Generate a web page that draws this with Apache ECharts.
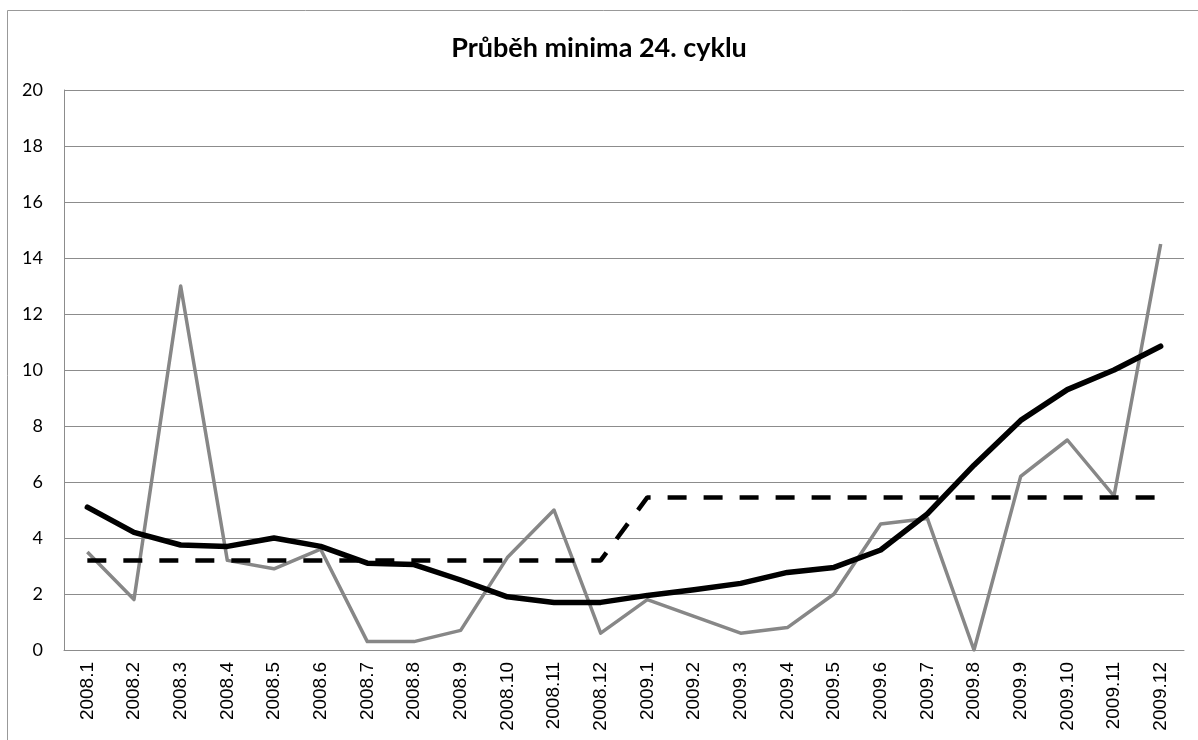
<!DOCTYPE html>
<html>
<head>
<meta charset="utf-8">
<script src="https://cdn.jsdelivr.net/npm/echarts@6/dist/echarts.min.js"></script>
<style>
  html, body { margin: 0; padding: 0; background: #fff; }
  #chart { width: 1198px; height: 740px; }
</style>
</head>
<body>
<div id="chart"></div>
<script>
const months = ['2008.1', '2008.2', '2008.3', '2008.4', '2008.5', '2008.6', '2008.7', '2008.8',
  '2008.9', '2008.10', '2008.11', '2008.12', '2009.1', '2009.2', '2009.3', '2009.4', '2009.5',
  '2009.6', '2009.7', '2009.8', '2009.9', '2009.10', '2009.11', '2009.12'];
// monthly values (gray)
const monthly = [3.5, 1.8, 13.0, 3.2, 2.9, 3.6, 0.3, 0.3, 0.7, 3.3, 5.0, 0.6,
  1.8, 1.2, 0.6, 0.8, 2.0, 4.5, 4.7, 0.0, 6.2, 7.5, 5.5, 14.5];
// smoothed (black)
const smoothed = [5.1, 4.2, 3.75, 3.7, 4.0, 3.7, 3.1, 3.05, 2.5, 1.9, 1.7, 1.7,
  1.95, 2.15, 2.38, 2.77, 2.95, 3.57, 4.86, 6.6, 8.2, 9.3, 10.0, 10.85];
// yearly average (dashed)
const yearly = [3.2, 3.2, 3.2, 3.2, 3.2, 3.2, 3.2, 3.2, 3.2, 3.2, 3.2, 3.2,
  5.45, 5.45, 5.45, 5.45, 5.45, 5.45, 5.45, 5.45, 5.45, 5.45, 5.45, 5.45];

const chart = echarts.init(document.getElementById('chart'));
chart.setOption({
  animation: false,
  backgroundColor: '#fff',
  title: {
    text: 'Průběh minima 24. cyklu',
    left: 'center',
    top: 30,
    textStyle: { fontFamily: 'Lato', fontWeight: 'bold', fontSize: 27, color: '#000' }
  },
  graphic: [{
    type: 'rect',
    shape: { x: 7.5, y: 10.5, width: 1300, height: 900 },
    style: { fill: 'none', stroke: '#999', lineWidth: 1 },
    silent: true
  }],
  grid: { left: 64, right: 14, top: 90, bottom: 90 },
  xAxis: {
    type: 'category',
    data: months,
    boundaryGap: true,
    axisLine: { lineStyle: { color: '#8c8c8c', width: 1 } },
    axisTick: { show: false },
    axisLabel: {
      rotate: 90,
      margin: 12,
      interval: 0,
      fontFamily: 'Liberation Sans',
      fontSize: 19,
      color: '#000'
    }
  },
  yAxis: {
    type: 'value',
    min: 0,
    max: 20,
    interval: 2,
    axisLine: { show: true, lineStyle: { color: '#8c8c8c', width: 1 } },
    axisTick: { show: false },
    splitLine: { lineStyle: { color: '#8c8c8c', width: 1 } },
    axisLabel: {
      margin: 21,
      fontFamily: 'Lato',
      fontSize: 18,
      color: '#000'
    }
  },
  series: [
    {
      name: 'monthly',
      type: 'line',
      data: monthly,
      showSymbol: false,
      lineStyle: { color: '#878787', width: 3.5, join: 'round' },
      z: 2
    },
    {
      name: 'yearly',
      type: 'line',
      data: yearly,
      showSymbol: false,
      lineStyle: { color: '#000', width: 4.5, type: [19, 17], cap: 'butt' },
      z: 3
    },
    {
      name: 'smoothed',
      type: 'line',
      data: smoothed,
      showSymbol: false,
      lineStyle: { color: '#000', width: 5.5, cap: 'round', join: 'round' },
      z: 4
    }
  ]
});
</script>
</body>
</html>
